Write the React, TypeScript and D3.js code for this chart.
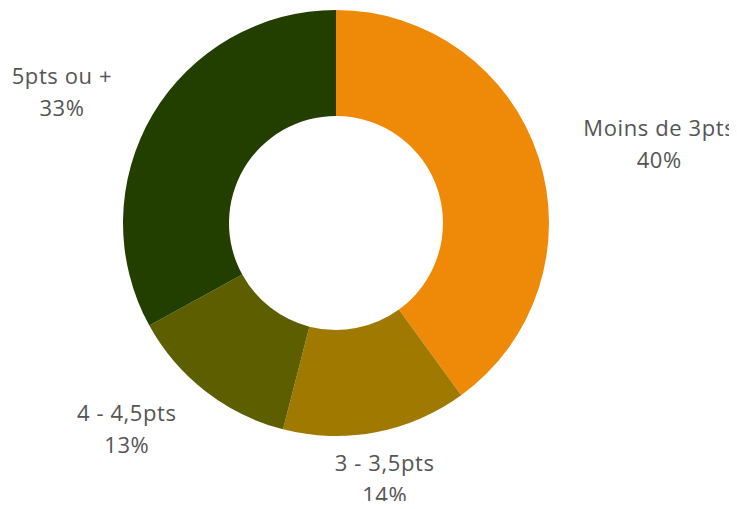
import React from "react";
import * as d3 from "d3";

const WIDTH = 737;
const HEIGHT = 509;

const categories = ["Moins de 3pts", "3 - 3,5pts", "4 - 4,5pts", "5pts ou +"];
const shares = [40, 14, 13, 33];
const colors = ["#EF8A08", "#A07A00", "#5C5E00", "#223F00"];

const CENTER = { x: 336, y: 223 };
const OUTER = 213;
const INNER = 107;
const LABEL_RADIUS = 260;
const LINE_GAP = 32;

type Slice = { name: string; value: number; color: string };

const App = () => {
  const ref = React.useRef<SVGSVGElement>(null);

  React.useEffect(() => {
    const svg = d3.select(ref.current!);
    svg.selectAll("*").remove();

    const data: Slice[] = categories.map((name, i) => ({ name, value: shares[i], color: colors[i] }));

    const pie = d3.pie<Slice>().value((d) => d.value).sort(null);
    const arc = d3.arc<d3.PieArcDatum<Slice>>().innerRadius(INNER).outerRadius(OUTER);
    const labelArc = d3.arc<d3.PieArcDatum<Slice>>().innerRadius(LABEL_RADIUS).outerRadius(LABEL_RADIUS);

    const arcs = pie(data);

    const g = svg.append("g").attr("transform", `translate(${CENTER.x}, ${CENTER.y})`);

    g.selectAll("path.slice")
      .data(arcs)
      .enter()
      .append("path")
      .attr("class", "slice")
      .attr("d", arc)
      .attr("fill", (d) => d.data.color);

    // anchor side depends on where the slice sits: sides get start/end, bottom/top get middle
    const anchor = (d: d3.PieArcDatum<Slice>) => {
      const s = Math.sin((d.startAngle + d.endAngle) / 2);
      return Math.abs(s) < 0.5 ? "middle" : s > 0 ? "start" : "end";
    };

    const labels = g
      .selectAll("text.label")
      .data(arcs)
      .enter()
      .append("text")
      .attr("class", "label")
      .attr("transform", (d) => `translate(${labelArc.centroid(d)})`)
      .attr("text-anchor", anchor)
      .attr("dominant-baseline", "central")
      .attr("font-family", "'Open Sans', sans-serif")
      .attr("font-size", 22)
      .attr("letter-spacing", 0.6)
      .attr("fill", "#555555");

    labels
      .append("tspan")
      .attr("x", 0)
      .attr("y", -LINE_GAP / 2)
      .text((d) => d.data.name);
    labels
      .append("tspan")
      .attr("x", 0)
      .attr("y", LINE_GAP / 2)
      .attr("text-anchor", "middle")
      .attr("dx", function (d) {
        const a = anchor(d);
        if (a === "middle") return 0;
        const first = (this as SVGTSpanElement).parentNode!.firstChild as SVGTSpanElement;
        const w = first.getComputedTextLength();
        return a === "start" ? w / 2 : -w / 2;
      })
      .text((d) => `${d.data.value}%`);
  }, []);

  return <svg ref={ref} width={WIDTH} height={HEIGHT} style={{ display: "block", margin: -8 }} />;
};

export default App;
